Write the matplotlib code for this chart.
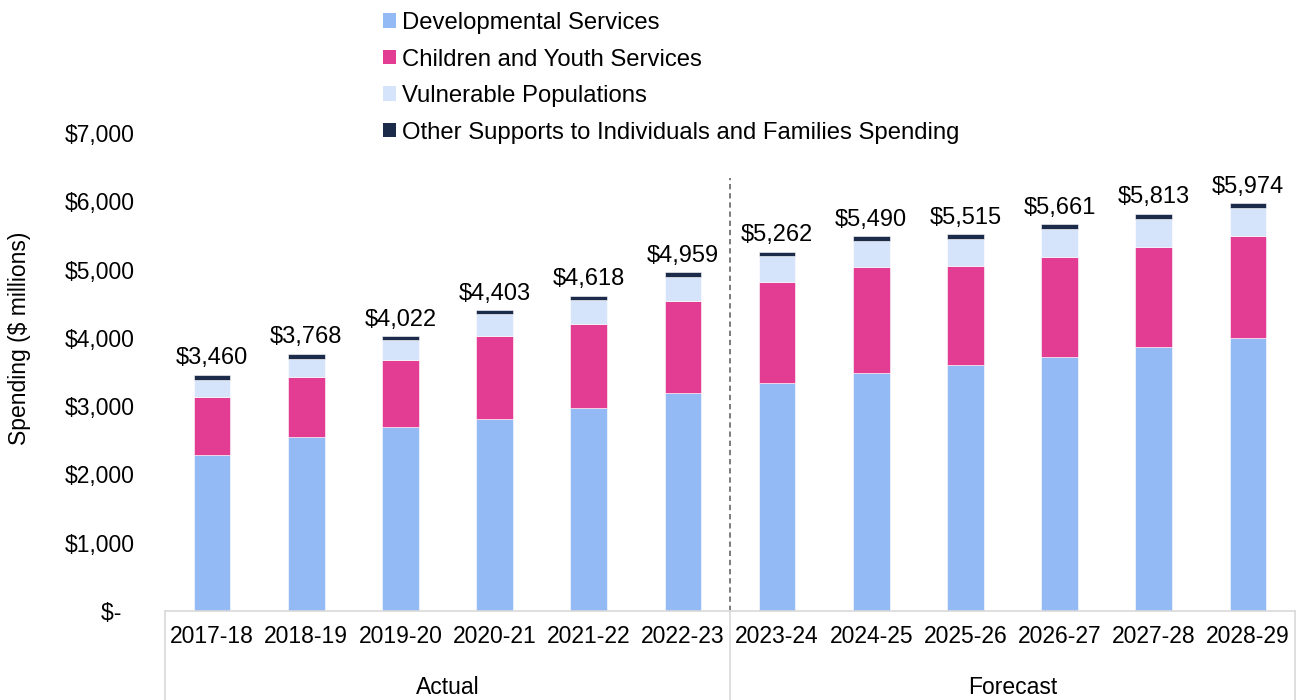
import numpy as np
import matplotlib
matplotlib.use("Agg")
import matplotlib.pyplot as plt
from matplotlib.patches import Patch
from matplotlib.ticker import FuncFormatter
import matplotlib.transforms as mtransforms

plt.rcParams["font.family"] = ["Liberation Sans", "DejaVu Sans"]

# ── data ($ millions) ──────────────────────────────────────────
years = ["2017-18", "2018-19", "2019-20", "2020-21", "2021-22", "2022-23",
         "2023-24", "2024-25", "2025-26", "2026-27", "2027-28", "2028-29"]
developmental = [2284, 2543, 2694, 2807, 2977, 3192, 3343, 3489, 3606, 3719, 3861, 3997]
children_youth = [854, 883, 981, 1220, 1230, 1347, 1479, 1548, 1441, 1464, 1469, 1489]
vulnerable = [245, 264, 288, 318, 351, 356, 376, 385, 400, 410, 410, 410]
other = [77, 78, 59, 58, 60, 64, 64, 68, 68, 68, 73, 78]
groups = ["Actual", "Forecast"]
n_actual = 6

series = [
    ("Developmental Services", developmental, "#93BAF5"),
    ("Children and Youth Services", children_youth, "#E33D93"),
    ("Vulnerable Populations", vulnerable, "#D5E3FB"),
    ("Other Supports to Individuals and Families Spending", other, "#1C2B4A"),
]

FS = 16.5
W, H = 1297, 700
fig = plt.figure(figsize=(W / 100, H / 100), dpi=100)
ax = fig.add_axes([165 / W, (H - 611) / H, (1295 - 165) / W, (611 - 133) / H])

x = np.arange(len(years))
bottom = np.zeros(len(years))
handles = []
for name, vals, color in series:
    vals = np.array(vals, dtype=float)
    ax.bar(x, vals, width=0.39, bottom=bottom, color=color,
           edgecolor="white", linewidth=0.4)
    bottom += vals
    handles.append(Patch(facecolor=color, edgecolor="none", label=name))

# totals above each stack
for xi, tot in zip(x, bottom):
    ax.annotate(f"${int(tot):,}", (xi, tot), xytext=(0, 4),
                textcoords="offset points", ha="center", va="bottom", fontsize=17)

# actual / forecast divider
ax.vlines(n_actual - 0.5, 0, 6340, colors="#595959", linewidth=1.1,
          linestyles=(0, (3.5, 2.5)))

ax.set_xlim(-0.5, len(years) - 0.5)
ax.set_ylim(0, 7000)
ax.set_yticks(np.arange(0, 7001, 1000))
ax.yaxis.set_major_formatter(FuncFormatter(lambda v, p: "$-  " if v == 0 else f"${int(v):,}"))
ax.tick_params(axis="y", length=0, pad=22, labelsize=FS)
ax.set_xticks(x)
ax.set_xticklabels(years)
ax.tick_params(axis="x", length=0, pad=10, labelsize=FS)

for side in ["left", "right", "top"]:
    ax.spines[side].set_visible(False)
ax.spines["bottom"].set_color("#D9D9D9")
ax.spines["bottom"].set_linewidth(1.2)

# category group separators and labels below the axis
trans = mtransforms.blended_transform_factory(ax.transData, ax.transAxes)
axes_h = (611 - 133)
drop = -(H - 611) / axes_h
for xs in [-0.5, n_actual - 0.5, len(years) - 0.5]:
    ax.plot([xs, xs], [0, drop], transform=trans, color="#D9D9D9",
            linewidth=1.2, clip_on=False)
group_y = -(688 - 611) / axes_h
ax.text((n_actual - 1) / 2, group_y, groups[0], transform=trans,
        ha="center", va="center", fontsize=FS)
ax.text((n_actual + len(years) - 1) / 2, group_y, groups[1], transform=trans,
        ha="center", va="center", fontsize=FS)

fig.text(20 / W, 1 - 338 / H, "Spending ($ millions)", rotation=90,
         ha="center", va="center", fontsize=FS)

fig.legend(handles=handles, loc="upper left", bbox_to_anchor=(371 / W, 1.0),
           frameon=False, fontsize=17.2, handlelength=0.55, handleheight=0.55,
           handletextpad=0.25, labelspacing=0.61, borderpad=0)

fig.savefig("out.png", dpi=100)
